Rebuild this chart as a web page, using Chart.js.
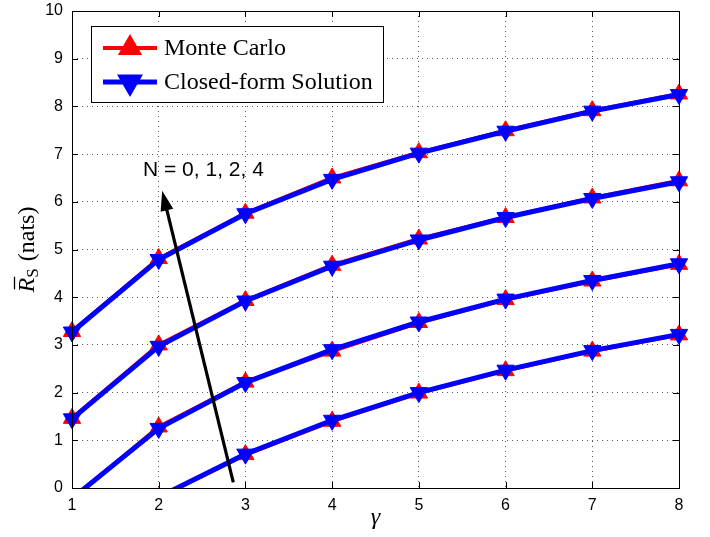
<!DOCTYPE html>
<html>
<head>
<meta charset="utf-8">
<script src="https://cdn.jsdelivr.net/npm/chart.js@4.4.1/dist/chart.umd.min.js"></script>
<style>
  html, body { margin: 0; padding: 0; background: #fff; }
  #wrap { width: 710px; height: 537px; position: relative; }
</style>
</head>
<body>
<div id="wrap"><canvas id="c" width="710" height="537"></canvas></div>
<script>
// ---- data ----
const gamma = [1, 2, 3, 4, 5, 6, 7, 8];
const xTicks = [1, 2, 3, 4, 5, 6, 7, 8];
const yTicks = [0, 1, 2, 3, 4, 5, 6, 7, 8, 9, 10];

const cfN0 = [-1.6, -0.19, 0.71, 1.42, 2.00, 2.47, 2.88, 3.22];
const mcN0 = [-1.6, -0.20, 0.70, 1.40, 1.99, 2.46, 2.87, 3.21];
const cfN1 = [-0.22, 1.25, 2.21, 2.90, 3.48, 3.96, 4.35, 4.70];
const mcN1 = [-0.24, 1.28, 2.22, 2.87, 3.47, 3.95, 4.34, 4.69];
const cfN2 = [1.45, 2.97, 3.92, 4.65, 5.20, 5.67, 6.07, 6.42];
const mcN2 = [1.46, 3.00, 3.93, 4.67, 5.22, 5.67, 6.08, 6.44];
const cfN4 = [3.27, 4.79, 5.75, 6.47, 7.02, 7.48, 7.90, 8.25];
const mcN4 = [3.28, 4.81, 5.76, 6.50, 7.03, 7.49, 7.91, 8.26];

const legendLabels = ['Monte Carlo', 'Closed-form Solution'];
const arrowLabel = 'N = 0, 1, 2, 4';
const arrowFrom = {x: 2.86, y: 0.12};
const arrowTo = {x: 2.04, y: 6.23};
const xTitle = 'γ';

const RED = '#ff0000', BLUE = '#0000ff';
const clipArea = {left: 14, right: 14, top: 14, bottom: 0};

function mc(values) {
  return {
    data: values.map((v, i) => ({x: gamma[i], y: v})),
    borderColor: RED, backgroundColor: RED, borderWidth: 4,
    pointStyle: 'triangle', pointRotation: 0, pointRadius: 10,
    pointBorderWidth: 1, pointBackgroundColor: RED, pointBorderColor: RED,
    order: 2, clip: clipArea, tension: 0
  };
}
function cf(values) {
  return {
    data: values.map((v, i) => ({x: gamma[i], y: v})),
    borderColor: BLUE, backgroundColor: BLUE, borderWidth: 5,
    pointStyle: 'triangle', pointRotation: 180, pointRadius: 10,
    pointBorderWidth: 1, pointBackgroundColor: BLUE, pointBorderColor: BLUE,
    order: 1, clip: clipArea, tension: 0
  };
}

const overlay = {
  id: 'overlay',
  afterDatasetsDraw(chart) {
    const ctx = chart.ctx, a = chart.chartArea;
    const xs = chart.scales.x, ys = chart.scales.y;
    ctx.save();
    // inner tick marks
    ctx.strokeStyle = '#000'; ctx.lineWidth = 1;
    xTicks.forEach(v => {
      const px = Math.round(xs.getPixelForValue(v)) + 0.5;
      ctx.beginPath();
      ctx.moveTo(px, a.bottom); ctx.lineTo(px, a.bottom - 6);
      ctx.moveTo(px, a.top); ctx.lineTo(px, a.top + 6);
      ctx.stroke();
    });
    yTicks.forEach(v => {
      const py = Math.round(ys.getPixelForValue(v)) + 0.5;
      ctx.beginPath();
      ctx.moveTo(a.left, py); ctx.lineTo(a.left + 6, py);
      ctx.moveTo(a.right, py); ctx.lineTo(a.right - 6, py);
      ctx.stroke();
    });
    // frame
    ctx.strokeRect(Math.round(a.left) + 0.5, Math.round(a.top) + 0.5,
                   Math.round(a.right - a.left), Math.round(a.bottom - a.top));

    // arrow
    const x0 = xs.getPixelForValue(arrowFrom.x), y0 = ys.getPixelForValue(arrowFrom.y);
    const x1 = xs.getPixelForValue(arrowTo.x), y1 = ys.getPixelForValue(arrowTo.y);
    const ang = Math.atan2(y1 - y0, x1 - x0);
    const hl = 20, hw = 6.5;
    const bx = x1 - Math.cos(ang) * hl, by = y1 - Math.sin(ang) * hl;
    ctx.strokeStyle = '#000'; ctx.lineWidth = 3.2;
    ctx.beginPath(); ctx.moveTo(x0, y0); ctx.lineTo(bx + Math.cos(ang) * 4, by + Math.sin(ang) * 4); ctx.stroke();
    ctx.fillStyle = '#000';
    ctx.beginPath();
    ctx.moveTo(x1, y1);
    ctx.lineTo(bx + Math.sin(ang) * hw, by - Math.cos(ang) * hw);
    ctx.lineTo(bx - Math.sin(ang) * hw, by + Math.cos(ang) * hw);
    ctx.closePath(); ctx.fill();
    ctx.font = '21px "Liberation Sans", Arial, sans-serif';
    ctx.textAlign = 'left'; ctx.textBaseline = 'alphabetic';
    ctx.fillText(arrowLabel, 143, 176);

    // legend
    const L = {x: 91, y: 26, w: 292, h: 76};
    ctx.fillStyle = '#fff';
    ctx.fillRect(L.x, L.y, L.w, L.h);
    ctx.strokeStyle = '#000'; ctx.lineWidth = 1;
    ctx.strokeRect(L.x + 0.5, L.y + 0.5, L.w, L.h);
    const rows = [
      {y: 48, color: RED, rot: 0, label: legendLabels[0]},
      {y: 82, color: BLUE, rot: 180, label: legendLabels[1]}
    ];
    rows.forEach(r => {
      ctx.strokeStyle = r.color; ctx.lineWidth = r.color === BLUE ? 5 : 4;
      ctx.beginPath(); ctx.moveTo(103, r.y); ctx.lineTo(157, r.y); ctx.stroke();
      ctx.fillStyle = r.color;
      Chart.helpers.drawPoint(ctx, {pointStyle: 'triangle', radius: 10, rotation: r.rot, borderWidth: 1}, 130, r.y);
      ctx.fill();
      ctx.fillStyle = '#000';
      ctx.font = '24px "Liberation Serif", "Times New Roman", serif';
      ctx.textBaseline = 'middle';
      ctx.fillText(r.label, 164, r.y + 1);
    });

    // x title
    ctx.textBaseline = 'alphabetic'; ctx.textAlign = 'center';
    ctx.font = 'italic 24px "Liberation Serif", "Times New Roman", serif';
    ctx.fillText(xTitle, (a.left + a.right) / 2, 524);

    // y title  (R-bar subscript S (nats))
    ctx.save();
    ctx.translate(34, (a.top + a.bottom) / 2);
    ctx.rotate(-Math.PI / 2);
    ctx.textAlign = 'left';
    const fR = 'italic 24px "Liberation Serif", "Times New Roman", serif';
    const fS = '17px "Liberation Serif", "Times New Roman", serif';
    const fN = '24px "Liberation Serif", "Times New Roman", serif';
    ctx.font = fR; const wR = ctx.measureText('R').width;
    ctx.font = fS; const wS = ctx.measureText('S').width;
    ctx.font = fN; const wN = ctx.measureText(' (nats)').width;
    const tot = wR + wS + 1 + wN;
    let cx = -tot / 2;
    ctx.font = fR; ctx.fillText('R', cx, 0);
    ctx.strokeStyle = '#000'; ctx.lineWidth = 1.3;
    ctx.beginPath(); ctx.moveTo(cx + 3, -19.5); ctx.lineTo(cx + wR + 1, -19.5); ctx.stroke();
    cx += wR;
    ctx.font = fS; ctx.fillText('S', cx, 4); cx += wS + 1;
    ctx.font = fN; ctx.fillText(' (nats)', cx, 0);
    ctx.restore();

    ctx.restore();
  }
};

new Chart(document.getElementById('c'), {
  type: 'line',
  data: {
    datasets: [cf(cfN0), mc(mcN0), cf(cfN1), mc(mcN1), cf(cfN2), mc(mcN2), cf(cfN4), mc(mcN4)]
  },
  options: {
    responsive: false,
    animation: false,
    layout: {padding: {top: 8, right: 31, left: 0, bottom: 0}},
    plugins: {legend: {display: false}, tooltip: {enabled: false}},
    scales: {
      x: {
        type: 'linear', min: 1, max: 8,
        afterBuildTicks: s => { s.ticks = xTicks.map(v => ({value: v})); },
        afterFit: s => { s.height = 49; s.paddingLeft = 0; s.paddingRight = 0; },
        grid: {color: 'rgba(0,0,0,0.65)', lineWidth: 1, drawTicks: false},
        border: {display: false, dash: [1, 4]},
        ticks: {color: '#000', padding: 8, maxRotation: 0,
                font: {family: '"Liberation Sans", Arial, sans-serif', size: 16}}
      },
      y: {
        type: 'linear', min: 0, max: 10,
        afterBuildTicks: s => { s.ticks = yTicks.map(v => ({value: v})); },
        afterFit: s => { s.width = 72; s.paddingTop = 0; s.paddingBottom = 0; },
        grid: {color: 'rgba(0,0,0,0.65)', lineWidth: 1, drawTicks: false},
        border: {display: false, dash: [1, 4]},
        ticks: {color: '#000', padding: 9,
                font: {family: '"Liberation Sans", Arial, sans-serif', size: 16}}
      }
    }
  },
  plugins: [overlay]
});
</script>
</body>
</html>
